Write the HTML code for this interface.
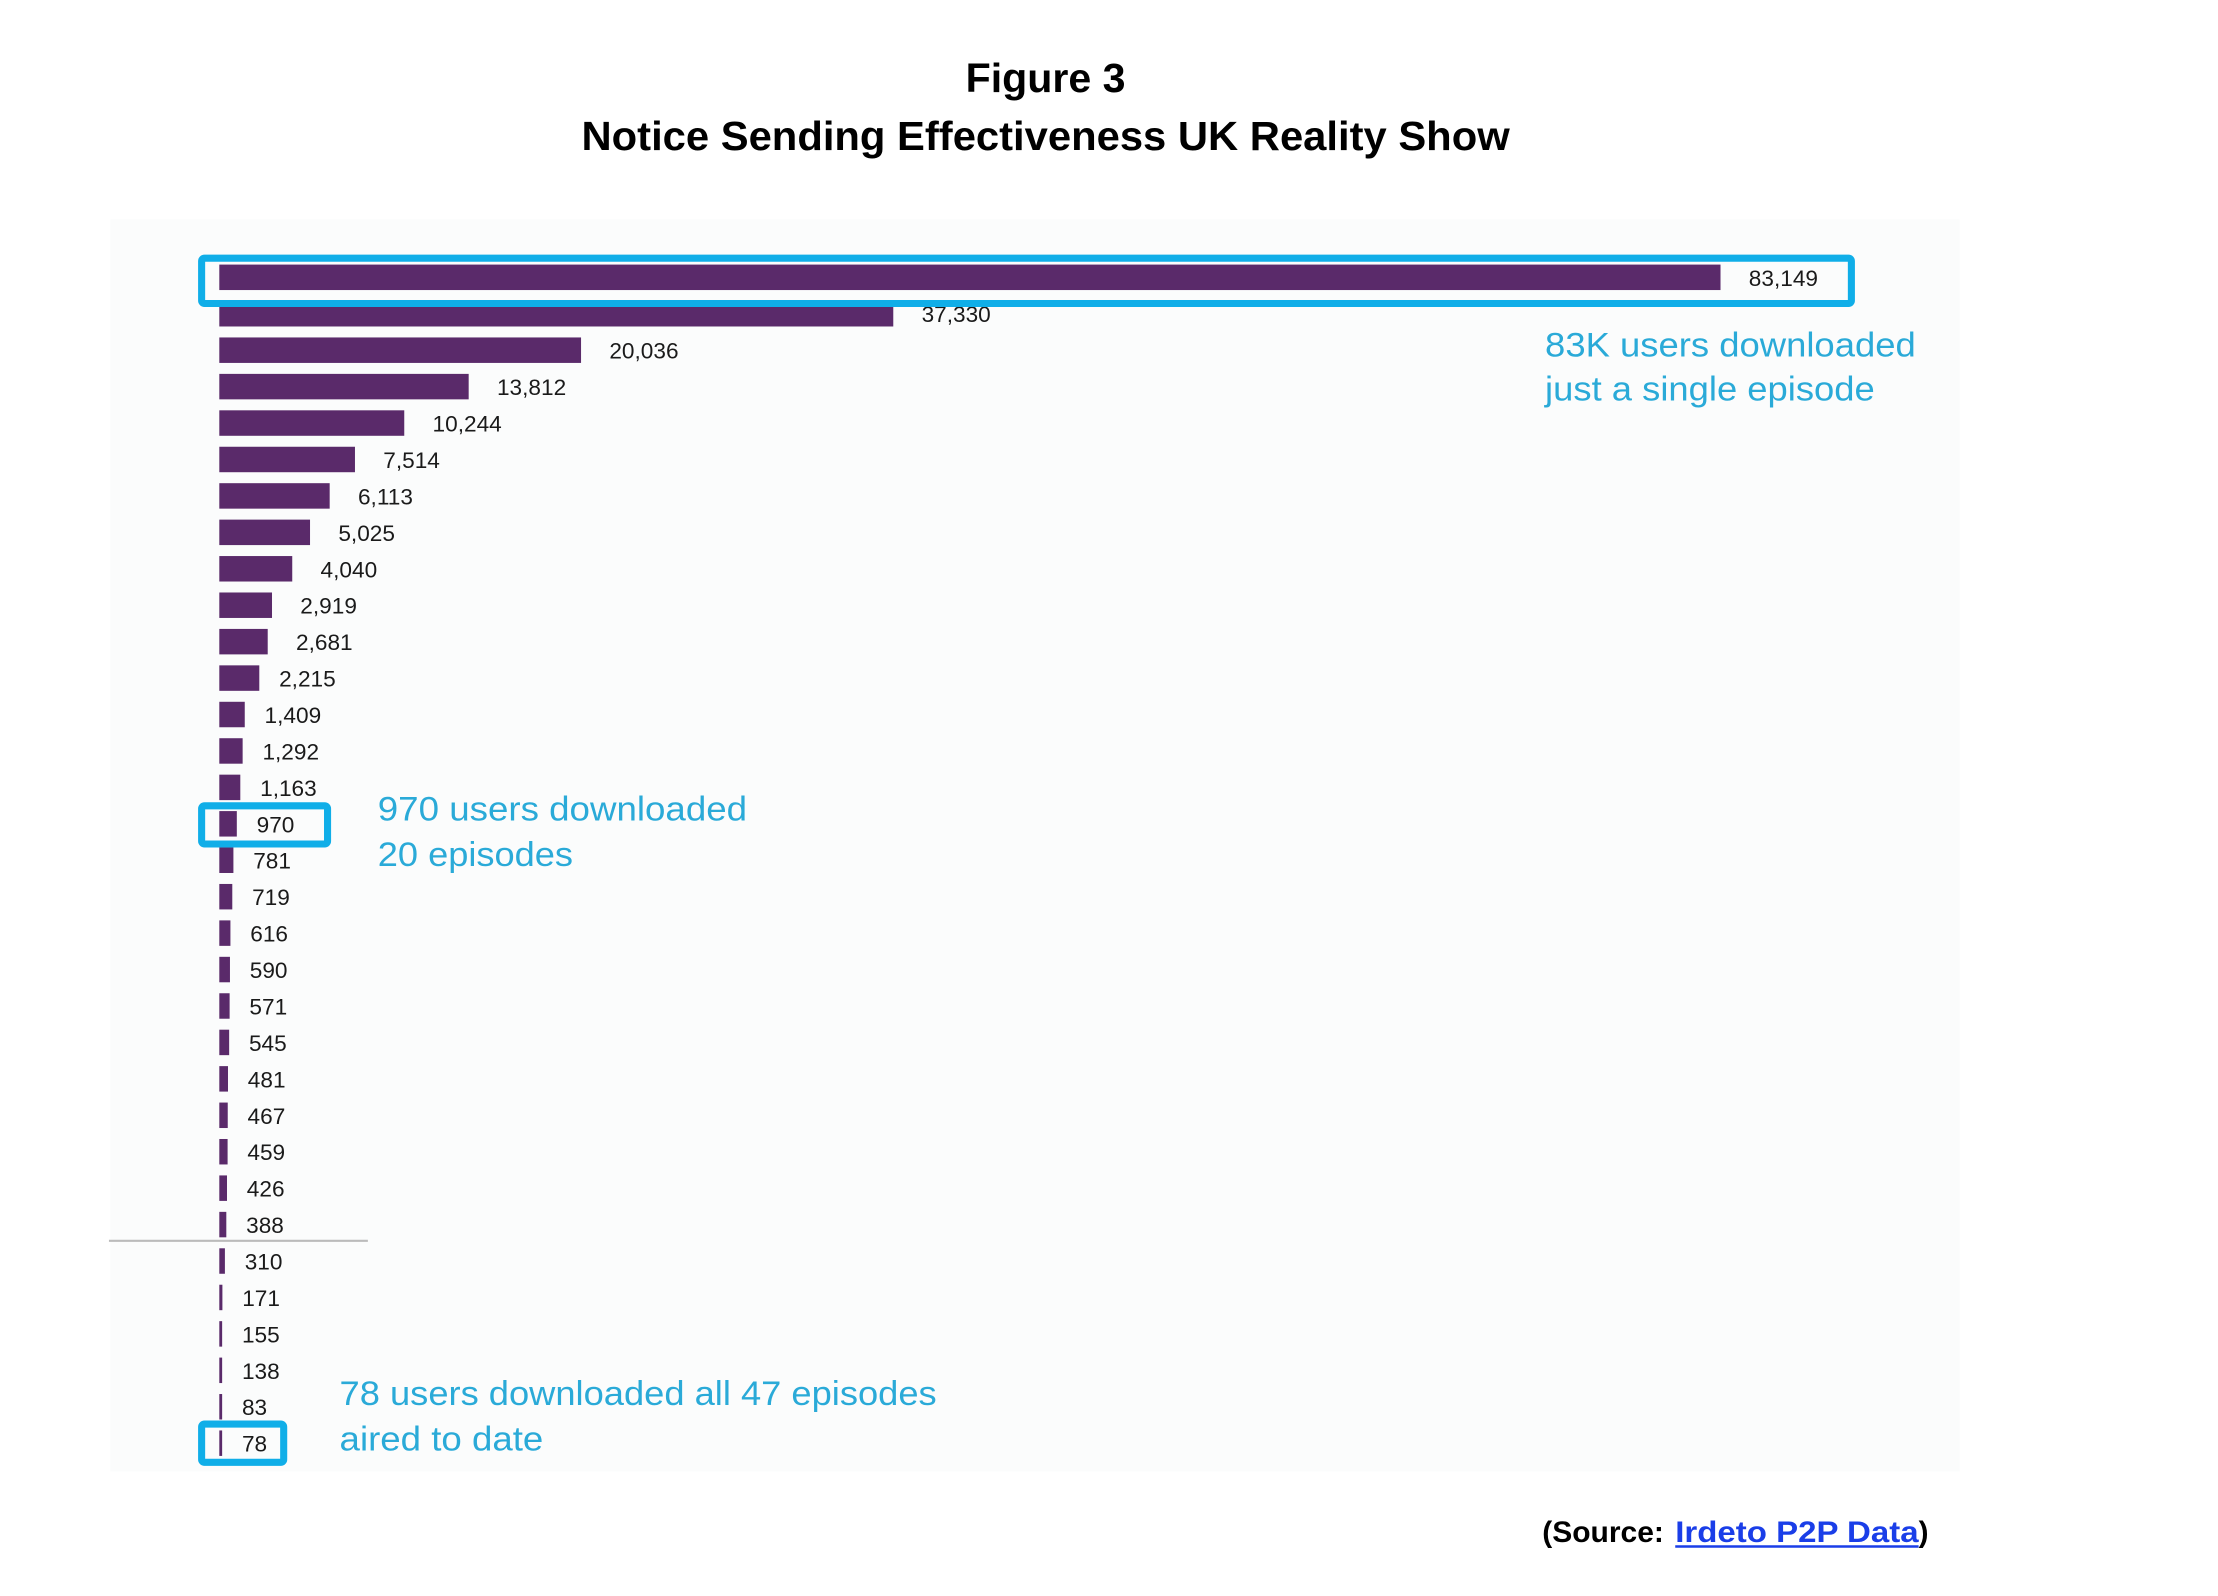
<!DOCTYPE html>
<html><head><meta charset="utf-8"><style>html,body{margin:0;padding:0;background:#fff}svg{display:block}</style></head>
<body>
<svg width="2218" height="1596" viewBox="0 0 1567 1128" preserveAspectRatio="xMinYMin meet" xmlns="http://www.w3.org/2000/svg" font-family="Liberation Sans, sans-serif">
<rect x="0" y="0" width="1567" height="1128" fill="#fff"/>
<rect x="78" y="155" width="1307" height="885" fill="#fbfcfc"/>
<text x="739" y="65" text-anchor="middle" font-weight="bold" font-size="29" textLength="113" lengthAdjust="spacingAndGlyphs">Figure 3</text>
<text x="739" y="106" text-anchor="middle" font-weight="bold" font-size="29" textLength="656" lengthAdjust="spacingAndGlyphs">Notice Sending Effectiveness UK Reality Show</text>
<line x1="77" y1="877" x2="260" y2="877" stroke="#bbb" stroke-width="1.5"/>
<g id="bars" fill="#5a2a6a"></g>
<g id="labels" font-size="16" fill="#1a1a1a"></g>
<g fill="none" stroke="#10aee8" stroke-width="5">
<rect x="142.5" y="182.5" width="1166" height="32" rx="2"/>
<rect x="142.5" y="569.5" width="89" height="27" rx="2"/>
<rect x="142.5" y="1006.5" width="58" height="27" rx="2"/>
</g>
<g fill="#2aaad8" font-size="24">
<text x="1092" y="252" textLength="262" lengthAdjust="spacingAndGlyphs">83K users downloaded</text>
<text x="1092" y="283" textLength="233" lengthAdjust="spacingAndGlyphs">just a single episode</text>
<text x="267" y="580" textLength="261" lengthAdjust="spacingAndGlyphs">970 users downloaded</text>
<text x="267" y="612" textLength="138" lengthAdjust="spacingAndGlyphs">20 episodes</text>
<text x="240" y="993" textLength="422" lengthAdjust="spacingAndGlyphs">78 users downloaded all 47 episodes</text>
<text x="240" y="1025" textLength="144" lengthAdjust="spacingAndGlyphs">aired to date</text>
</g>
<text x="1090" y="1090" font-weight="bold" font-size="21" textLength="86" lengthAdjust="spacingAndGlyphs">(Source:</text>
<text x="1184" y="1090" font-weight="bold" font-size="21" fill="#1a3ee8" textLength="172" lengthAdjust="spacingAndGlyphs">Irdeto P2P Data</text>
<line x1="1184" y1="1093" x2="1356" y2="1093" stroke="#1a3ee8" stroke-width="1.8"/>
<text x="1356" y="1090" font-weight="bold" font-size="21">)</text>
<script>
var v=[83149,37330,20036,13812,10244,7514,6113,5025,4040,2919,2681,2215,1409,1292,1163,970,781,719,616,590,571,545,481,467,459,426,388,310,171,155,138,83,78];
var bg=document.getElementById('bars'),lg=document.getElementById('labels'),ns='http://www.w3.org/2000/svg';
v.forEach(function(d,i){
 var cy=196+i*25.75,w=Math.max(2,1061*d/83149);
 var r=document.createElementNS(ns,'rect');r.setAttribute('x',155);r.setAttribute('y',cy-9);r.setAttribute('width',w);r.setAttribute('height',18);bg.appendChild(r);
 var t=document.createElementNS(ns,'text');t.setAttribute('x',155+w+(w>30?20:14));t.setAttribute('y',cy+6);
 t.textContent=d.toLocaleString('en-US');lg.appendChild(t);
});
</script>
</svg>
</body></html>
